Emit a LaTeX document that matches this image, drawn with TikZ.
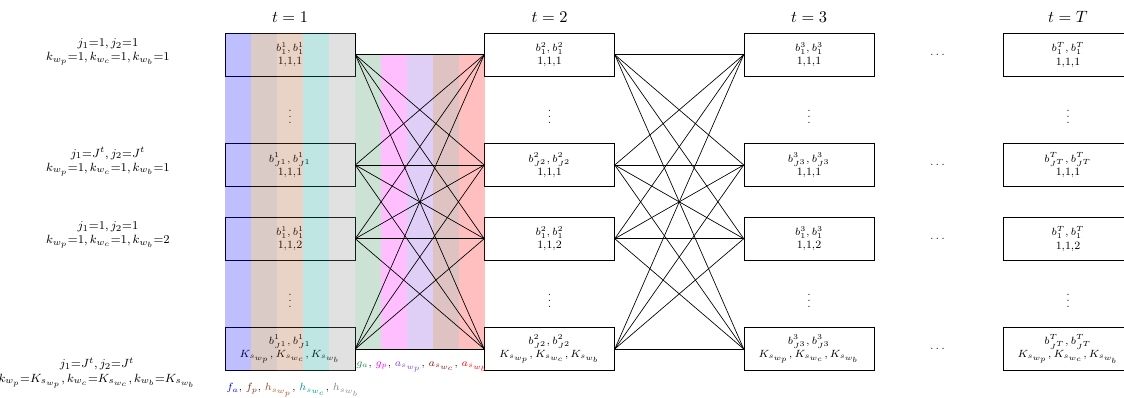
\documentclass[tikz,border=0pt]{standalone}
\usepackage{amsmath,amssymb}
\usepackage{xcolor}
\usepackage{tikz}
\usetikzlibrary{calc}
\definecolor{cfa}{HTML}{0000FF}
\definecolor{cfp}{HTML}{70301F}
\definecolor{chwp}{HTML}{A8501E}
\definecolor{chwc}{HTML}{009B8B}
\definecolor{chwb}{HTML}{868686}
\definecolor{cga}{HTML}{2E8B57}
\definecolor{cgp}{HTML}{FF00FF}
\definecolor{caswp}{HTML}{8040E0}
\definecolor{caswc}{HTML}{801010}
\definecolor{caswb}{HTML}{FF0000}
\tikzset{
  cell/.style={draw=black,line width=0.5pt,minimum width=3.05cm,minimum height=1.02cm,inner sep=0pt,align=center,font=\fontsize{7.5}{8.8}\selectfont},
  stagelabel/.style={font=\fontsize{11}{13}\selectfont,inner sep=1pt},
  rowlabel/.style={align=center,font=\footnotesize,inner sep=1pt},
  legendtxt/.style={font=\fontsize{6.6}{8}\selectfont,inner sep=1pt},
  dotsnode/.style={font=\scriptsize,inner sep=0pt},
  band/.style={fill opacity=0.25},
  link/.style={draw=black,line width=0.45pt}
}

\begin{document}
\begin{tikzpicture}[x=0.0235cm,y=-0.0235cm]
  \useasboundingbox (0,0) rectangle (1124,397);

  % time slices
  \foreach \c/\x/\s in {1/290/1,2/549.5/2,3/809/3,4/1068/T}{
    \node[stagelabel] (t\c) at (\x,17) {$t=\s$};
    \node[cell] (c\c r1) at (\x,54.7) {$b^{\s}_{1},b^{\s}_{1}$\\1,1,1};
    \node[cell] (c\c r2) at (\x,165) {$b^{\s}_{J^{\s}},b^{\s}_{J^{\s}}$\\1,1,1};
    \node[cell] (c\c r3) at (\x,238.7) {$b^{\s}_{1},b^{\s}_{1}$\\1,1,2};
    \node[cell] (c\c r4) at (\x,349) {$b^{\s}_{J^{\s}},b^{\s}_{J^{\s}}$\\$K_{s_{w_p}},K_{s_{w_c}},K_{s_{w_b}}$};
    \node[dotsnode] (v\c a) at (\x,112) {$\vdots$};
    \node[dotsnode] (v\c b) at (\x,296) {$\vdots$};
  }
  \foreach \r/\y in {1/54.7,2/165,3/238.7,4/349}
    \node[dotsnode] (h\r) at (938.5,\y) {$\cdots$};

  % row indices
  \node[rowlabel] (lab1) at (108,52) {$j_1{=}1,j_2{=}1$\\$k_{w_p}{=}1,k_{w_c}{=}1,k_{w_b}{=}1$};
  \node[rowlabel] (lab2) at (108,161.5) {$j_1{=}J^t,j_2{=}J^t$\\$k_{w_p}{=}1,k_{w_c}{=}1,k_{w_b}{=}1$};
  \node[rowlabel] (lab3) at (108,235) {$j_1{=}1,j_2{=}1$\\$k_{w_p}{=}1,k_{w_c}{=}1,k_{w_b}{=}2$};
  \node[rowlabel] (lab4) at (97,373) {$j_1{=}J^t,j_2{=}J^t$\\$k_{w_p}{=}K_{s_{w_p}},k_{w_c}{=}K_{s_{w_c}},k_{w_b}{=}K_{s_{w_b}}$};

  % coloured bands
  \foreach \col [count=\i from 0] in {cfa,cfp,chwp,chwc,chwb}
    \fill[band,\col] ($(c1r1.north west)+(26*\i,0)$) rectangle ($(c1r4.south west)+(26*\i+26,0)$);
  \foreach \col [count=\i from 0] in {cga,cgp,caswp,caswc,caswb}
    \fill[band,\col] ($(c1r1.east)+(26*\i,0)$) rectangle ($(c1r4.east)+(26*\i+26,0)$);

  % transitions
  \foreach \i in {1,...,4}
    \foreach \j in {1,...,4}{
      \draw[link] (c1r\i.east) -- (c2r\j.west);
      \draw[link] (c2r\i.east) -- (c3r\j.west);
    }

  \node[legendtxt] (leg1) at (293,390) {\textcolor{cfa}{$f_a$}, \textcolor{cfp}{$f_p$}, \textcolor{chwp}{$h_{s_{w_p}}$}, \textcolor{chwc}{$h_{s_{w_c}}$}, \textcolor{chwb}{$h_{s_{w_b}}$}};
  \node[legendtxt] (leg2) at (422,367) {\textcolor{cga}{$g_a$}, \textcolor{cgp}{$g_p$}, \textcolor{caswp}{$a_{s_{w_p}}$}, \textcolor{caswc}{$a_{s_{w_c}}$}, \textcolor{caswb}{$a_{s_{w_b}}$}};
\end{tikzpicture}
\end{document}
